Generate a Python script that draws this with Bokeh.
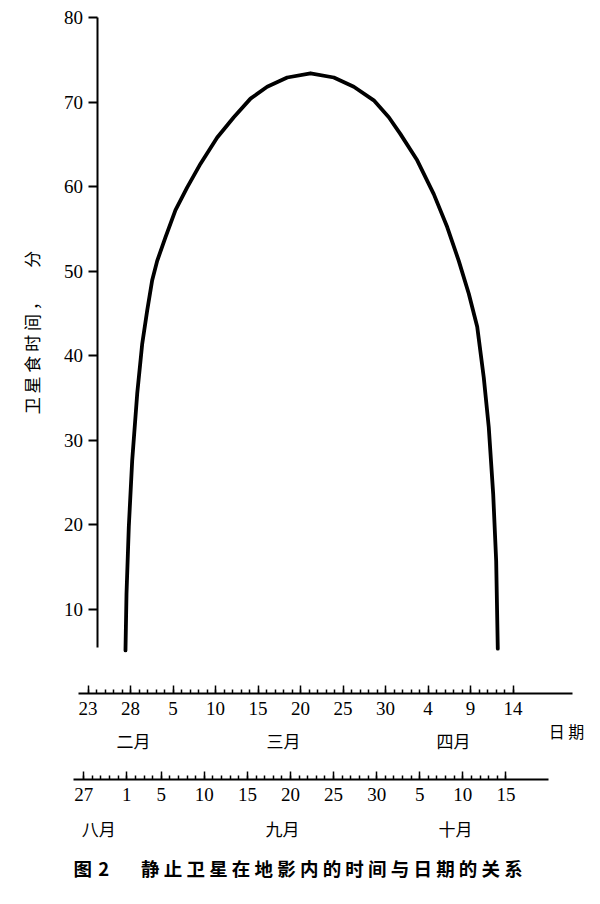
from bokeh.plotting import figure
from bokeh.models import LinearAxis, FixedTicker, Range1d, ColumnDataSource
from bokeh.core.properties import value
from bokeh.embed import file_html
from bokeh.resources import INLINE

# ---------------- data ----------------
# days after 23 February (spring scale) and eclipse duration in minutes
day_offset = [4.41, 4.53, 4.80, 5.20, 5.79, 6.38, 6.96, 7.55, 8.14, 9.12,
              10.29, 11.67, 13.24, 15.20, 17.15, 19.12, 21.08, 23.44, 26.18,
              28.92, 31.27, 33.62, 35.39, 36.76, 38.73, 40.68, 42.26, 43.62,
              44.80, 45.79, 46.56, 47.15, 47.67, 48.02, 48.21]
eclipse_minutes = [5.1, 11.8, 19.7, 27.6, 35.5, 41.4, 45.3, 48.9, 51.2, 54.0,
                   57.2, 59.9, 62.7, 65.8, 68.2, 70.4, 71.8, 72.9, 73.4,
                   72.9, 71.8, 70.2, 68.2, 66.2, 63.1, 59.1, 55.2, 51.2,
                   47.3, 43.4, 37.4, 31.5, 23.6, 15.7, 5.3]

y_ticks = [10, 20, 30, 40, 50, 60, 70, 80]

# spring date scale: day 0 = 23 Feb
spring_ticks = [0, 5, 10, 15, 20, 25, 30, 35, 40, 45, 50]
spring_labels = ["23", "28", "5", "10", "15", "20", "25", "30", "4", "9", "14"]
spring_days = list(range(0, 51))
spring_months = ["二月", "三月", "四月"]

# autumn date scale: day 0 = 27 Aug
autumn_ticks = [0, 5, 9, 14, 19, 24, 29, 34, 39, 44, 49]
autumn_labels = ["27", "1", "5", "10", "15", "20", "25", "30", "5", "10", "15"]
autumn_days = list(range(0, 50))
autumn_months = ["八月", "九月", "十月"]

y_label = "卫 星 食 时 间 ，\u3000\u3000分"
date_label = "日 期"
caption = ("图\u20042\u3000\u2002 静 止 卫 星 在 地 影 内 的 时 间 与 日 期 的 关 系")

# ---------------- layout constants (page pixels) ----------------
W, H = 592, 884
LEFT, TOP = 0, 0
X0, PX_DAY = 87.5, 8.5        # spring scale
X0B, PX_DAYB = 83.2, 8.617    # autumn scale
Y80, PX_MIN = 17.0, 8.45      # minutes scale

def xd(px):
    return (px - X0) / PX_DAY

def xdb(px):
    return (px - X0B) / PX_DAYB

def yv(py):
    return 80 - (py - Y80) / PX_MIN

x_range = Range1d(xd(LEFT), xd(LEFT + W))
y_range = Range1d(yv(TOP + H), yv(TOP))

p = figure(width=W, height=H, x_range=x_range, y_range=y_range,
           x_axis_type=None, y_axis_type=None, toolbar_location=None,
           output_backend="svg", min_border=0, outline_line_color=None,
           background_fill_color="white", border_fill_color="white")
p.extra_x_ranges = {"autumn": Range1d(xdb(LEFT), xdb(LEFT + W))}
p.xgrid.visible = False
p.ygrid.visible = False

SERIF = "Liberation Serif"
CJK = "Noto Sans CJK SC"

# y axis
yax = LinearAxis(fixed_location=xd(96.5), bounds=(yv(647), 80),
                 ticker=FixedTicker(ticks=y_ticks, minor_ticks=[]),
                 axis_label=y_label)
yax.axis_line_width = 2
yax.axis_line_color = "black"
yax.major_tick_in = 0
yax.major_tick_out = 9
yax.major_tick_line_width = 2
yax.minor_tick_line_color = None
yax.major_label_text_font = SERIF
yax.major_label_text_font_size = "19px"
yax.major_label_text_color = "black"
yax.major_label_standoff = 5
yax.axis_label_text_font = CJK
yax.axis_label_text_font_style = "normal"
yax.axis_label_text_font_size = "17px"
yax.axis_label_text_color = "black"
yax.axis_label_standoff = 18
p.add_layout(yax, "left")

def date_axis(ticks, labels, minors, loc, bounds, range_name=None):
    kw = {}
    if range_name:
        kw["x_range_name"] = range_name
    ax = LinearAxis(fixed_location=loc, bounds=bounds,
                    ticker=FixedTicker(ticks=ticks, minor_ticks=minors),
                    major_label_overrides={t: l for t, l in zip(ticks, labels)},
                    **kw)
    ax.axis_line_width = 2
    ax.axis_line_color = "black"
    ax.major_tick_in = 8
    ax.major_tick_out = 0
    ax.major_tick_line_width = 1.5
    ax.minor_tick_in = 4
    ax.minor_tick_out = 0
    ax.minor_tick_line_width = 1.5
    ax.minor_tick_line_color = "black"
    ax.major_label_text_font = SERIF
    ax.major_label_text_font_size = "19px"
    ax.major_label_text_color = "black"
    ax.major_label_standoff = 8
    p.add_layout(ax, "below")
    return ax

date_axis(spring_ticks, spring_labels, spring_days, yv(693.3),
          (xd(78.3), xd(571.7)))
date_axis(autumn_ticks, autumn_labels, autumn_days, yv(779),
          (xdb(73.3), xdb(548.3)), "autumn")

# curve
src = ColumnDataSource(dict(x=day_offset, y=eclipse_minutes))
p.line("x", "y", source=src, line_width=3.8, line_color="black",
       line_join="round", line_cap="round")

# month labels
p.text(x=[xd(133), xd(283), xd(453)], y=[yv(740)] * 3, text=spring_months,
       text_font=value(CJK), text_font_size="17px", text_align="center",
       text_baseline="middle", text_color="black")
p.text(x=[xdb(98.3), xdb(282), xdb(455)], y=[yv(827.5)] * 3, text=autumn_months,
       x_range_name="autumn",
       text_font=value(CJK), text_font_size="17px", text_align="center",
       text_baseline="middle", text_color="black")
p.text(x=[xd(566)], y=[yv(730)], text=[date_label],
       text_font=value(CJK), text_font_size="16px", text_align="center",
       text_baseline="middle", text_color="black")
p.text(x=[xd(73)], y=[yv(867)], text=[caption],
       text_font=value(CJK), text_font_size="18.5px", text_font_style="bold",
       text_align="left", text_baseline="middle", text_color="black")

open("out.html", "w").write(file_html(p, INLINE))
